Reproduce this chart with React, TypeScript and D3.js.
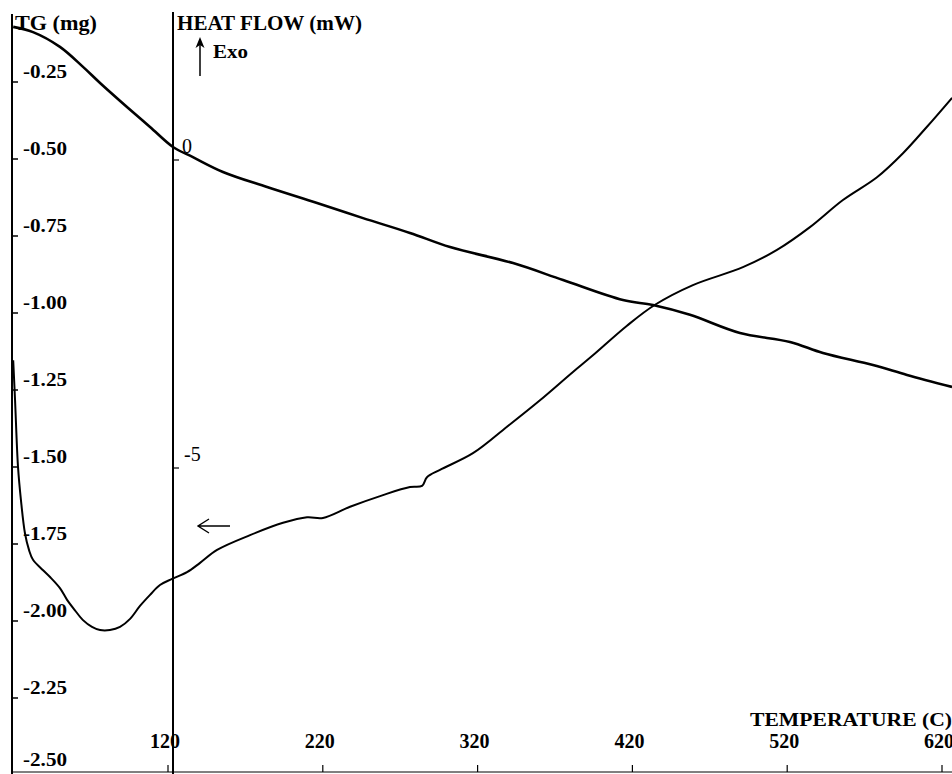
import React, { useEffect, useRef } from "react";
import * as d3 from "d3";

const W = 952;
const H = 774;

// TG curve: temperature (C) and mass change (mg)
const tgTemp = [20.0, 32.8, 50.2, 65.1, 76.1, 93.5, 108.4, 123.2, 136.1, 155.5, 184.0, 216.3, 246.0, 276.3, 302.2, 342.9, 375.2, 413.9, 433.3, 457.2, 489.5, 521.8, 543.1, 575.4, 597.4, 626.5];
const tgMass = [-0.071, -0.088, -0.136, -0.201, -0.253, -0.331, -0.396, -0.461, -0.494, -0.542, -0.591, -0.643, -0.692, -0.740, -0.786, -0.838, -0.893, -0.958, -0.974, -1.006, -1.065, -1.094, -1.130, -1.169, -1.201, -1.240];

// DSC curve: temperature (C) and heat flow (mW)
const hfTemp = [20.0, 21.2, 23.1, 25.0, 27.6, 30.2, 32.8, 39.3, 43.8, 50.2, 54.8, 59.9, 65.1, 70.9, 76.1, 82.5, 89.0, 95.5, 101.9, 108.4, 114.8, 122.6, 132.3, 140.7, 151.7, 173.0, 194.3, 209.8, 220.1, 237.6, 258.9, 276.3, 284.1, 287.3, 295.7, 317.0, 339.0, 360.3, 381.6, 394.5, 416.5, 434.6, 459.1, 491.4, 513.4, 534.7, 556.0, 578.0, 594.8, 610.3, 626.5];
const hfFlow = [-3.25, -3.90, -4.98, -5.52, -6.06, -6.33, -6.49, -6.66, -6.77, -6.95, -7.14, -7.31, -7.47, -7.58, -7.63, -7.63, -7.58, -7.45, -7.24, -7.06, -6.90, -6.80, -6.69, -6.54, -6.33, -6.09, -5.89, -5.80, -5.81, -5.63, -5.44, -5.31, -5.29, -5.15, -5.03, -4.76, -4.33, -3.90, -3.44, -3.17, -2.69, -2.35, -2.03, -1.74, -1.46, -1.09, -0.65, -0.28, 0.11, 0.54, 1.01];

const tempTicks = [120, 220, 320, 420, 520, 620];
const tgTicks = [-0.25, -0.5, -0.75, -1.0, -1.25, -1.5, -1.75, -2.0, -2.25, -2.5];
const hfTicks = [0, -5];

const FONT = "'Liberation Serif', 'Times New Roman', serif";

function ThermoChart() {
  const svgRef = useRef<SVGSVGElement>(null);

  useEffect(() => {
    const svg = d3.select(svgRef.current);
    svg.selectAll("*").remove();

    const x = d3.scaleLinear().domain([120, 620]).range([168, 942]);
    const yTG = d3.scaleLinear().domain([0, -2.5]).range([5, 775]);
    const yHF = d3.scaleLinear().domain([0, -5]).range([160, 468]);

    const leftX = 12;
    const hfX = 173;
    const baseY = 772;

    // axes lines
    svg.append("line")
      .attr("x1", leftX).attr("x2", leftX)
      .attr("y1", 14).attr("y2", baseY + 2)
      .attr("stroke", "#000").attr("stroke-width", 2);
    svg.append("line")
      .attr("x1", hfX).attr("x2", hfX)
      .attr("y1", 12).attr("y2", H)
      .attr("stroke", "#000").attr("stroke-width", 2);
    svg.append("line")
      .attr("x1", leftX).attr("x2", W)
      .attr("y1", baseY).attr("y2", baseY)
      .attr("stroke", "#000").attr("stroke-width", 1);

    // TG axis ticks + labels
    const tg = svg.append("g");
    tg.selectAll("line")
      .data(tgTicks)
      .enter()
      .append("line")
      .attr("x1", leftX).attr("x2", leftX + 6)
      .attr("y1", (d) => yTG(d)).attr("y2", (d) => yTG(d))
      .attr("stroke", "#000").attr("stroke-width", 1.5);
    tg.selectAll("text")
      .data(tgTicks)
      .enter()
      .append("text")
      .attr("x", 23)
      .attr("y", (d) => Math.min(yTG(d) - 4, 766))
      .attr("font-family", FONT)
      .attr("font-weight", "bold")
      .attr("font-size", 19)
      .attr("textLength", 44)
      .attr("lengthAdjust", "spacingAndGlyphs")
      .text((d) => d.toFixed(2));

    // heat flow axis ticks + labels
    const hf = svg.append("g");
    hf.selectAll("line")
      .data(hfTicks)
      .enter()
      .append("line")
      .attr("x1", hfX).attr("x2", hfX + 6)
      .attr("y1", (d) => yHF(d)).attr("y2", (d) => yHF(d))
      .attr("stroke", "#000").attr("stroke-width", 1.2);
    hf.selectAll("text")
      .data(hfTicks)
      .enter()
      .append("text")
      .attr("x", (d) => (d === 0 ? 182 : 184))
      .attr("y", (d) => yHF(d) - 7)
      .attr("font-family", FONT)
      .attr("font-size", 20)
      .text((d) => String(d));

    // temperature ticks + labels
    const tx = svg.append("g");
    tx.selectAll("line")
      .data(tempTicks)
      .enter()
      .append("line")
      .attr("x1", (d) => x(d)).attr("x2", (d) => x(d))
      .attr("y1", baseY - 7).attr("y2", baseY)
      .attr("stroke", "#000").attr("stroke-width", 1.2);
    tx.selectAll("text")
      .data(tempTicks)
      .enter()
      .append("text")
      .attr("x", (d) => x(d) - 3)
      .attr("y", 748)
      .attr("text-anchor", "middle")
      .attr("font-family", FONT)
      .attr("font-weight", "bold")
      .attr("font-size", 20)
      .text((d) => String(d));

    // curves
    const tgData = tgTemp.map((t, i) => [t, tgMass[i]] as [number, number]);
    const hfData = hfTemp.map((t, i) => [t, hfFlow[i]] as [number, number]);

    const tgLine = d3.line<[number, number]>()
      .x((d) => x(d[0]))
      .y((d) => yTG(d[1]))
      .curve(d3.curveCatmullRom.alpha(0.5));
    const hfLine = d3.line<[number, number]>()
      .x((d) => x(d[0]))
      .y((d) => yHF(d[1]))
      .curve(d3.curveCatmullRom.alpha(0.5));

    svg.append("path")
      .datum(tgData)
      .attr("d", tgLine)
      .attr("fill", "none")
      .attr("stroke", "#000")
      .attr("stroke-width", 2.6);
    svg.append("path")
      .datum(hfData)
      .attr("d", hfLine)
      .attr("fill", "none")
      .attr("stroke", "#000")
      .attr("stroke-width", 2);

    // titles
    const title = (txt: string, tx0: number, ty: number, len: number, size: number) =>
      svg.append("text")
        .attr("x", tx0).attr("y", ty)
        .attr("font-family", FONT)
        .attr("font-weight", "bold")
        .attr("font-size", size)
        .attr("textLength", len)
        .attr("lengthAdjust", "spacingAndGlyphs")
        .text(txt);
    title("TG (mg)", 15, 30, 82, 20);
    title("HEAT FLOW (mW)", 177, 30, 185, 20);
    title("Exo", 213, 58, 35, 19);
    title("TEMPERATURE (C)", 750, 726, 202, 19);

    // exo arrow
    svg.append("line")
      .attr("x1", 200).attr("x2", 200)
      .attr("y1", 76).attr("y2", 44)
      .attr("stroke", "#000").attr("stroke-width", 1.5);
    svg.append("path")
      .attr("d", "M200,37 L195.5,48 L200,45 L204.5,48 Z")
      .attr("fill", "#000");

    // left arrow pointing at the TG axis
    svg.append("path")
      .attr("d", "M230,526 L198,526 M209,519 L198,526 L209,533")
      .attr("fill", "none")
      .attr("stroke", "#000")
      .attr("stroke-width", 1.4);
  }, []);

  return <svg ref={svgRef} width={W} height={H} style={{ display: "block", background: "#fff" }}></svg>;
}

export default function App() {
  useEffect(() => {
    document.body.style.margin = "0";
  }, []);
  return <ThermoChart />;
}
